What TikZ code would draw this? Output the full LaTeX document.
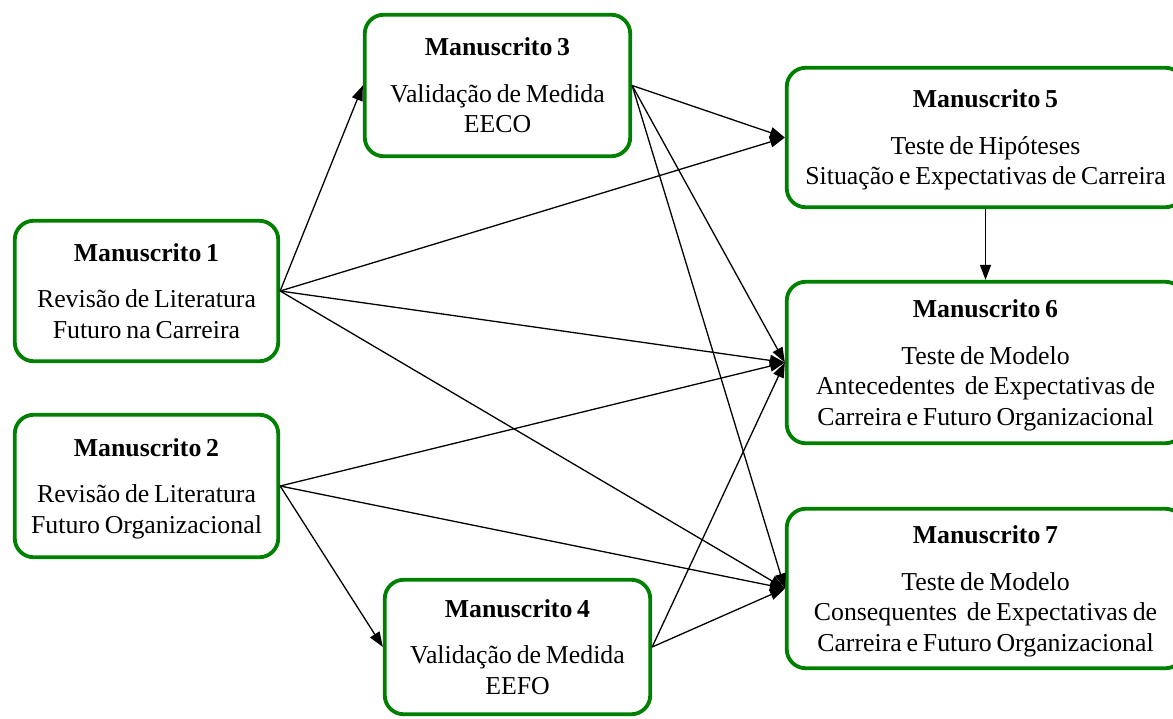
\documentclass[tikz,border=0pt]{standalone}
\usepackage{fontspec}
\setmainfont{Liberation Serif}[WordSpace=0.75]
\usetikzlibrary{arrows.meta}
\definecolor{boxgreen}{RGB}{0,128,0}
\begin{document}
\begin{tikzpicture}[x=1pt,y=-1pt,
  msbox/.style={draw=boxgreen, line width=3.8pt, rounded corners=19pt, fill=white,
    align=center, inner sep=0pt, text depth=0pt,
    font=\fontsize{25.8}{30.5}\selectfont},
  link/.style={line width=1.3pt, -{Triangle[length=15pt,width=11pt]}}]
\useasboundingbox (0,0) rectangle (1173,718);

% left column: literature reviews
\node[msbox, minimum width=263.5pt, minimum height=140.5pt] (m1) at (146.5,291)
  {\textbf{Manuscrito 1}\\[16pt]Revisão de Literatura\\Futuro na Carreira};
\node[msbox, minimum width=263.5pt, minimum height=142.5pt] (m2) at (146.5,486)
  {\textbf{Manuscrito 2}\\[16pt]Revisão de Literatura\\Futuro Organizacional};

% middle column: measure validation
\node[msbox, minimum width=265.5pt, minimum height=141.5pt] (m3) at (497.5,85.5)
  {\textbf{Manuscrito 3}\\[16pt]Validação de Medida\\EECO};
\node[msbox, minimum width=265.5pt, minimum height=134.5pt] (m4) at (517.5,647)
  {\textbf{Manuscrito 4}\\[16pt]Validação de Medida\\EEFO};

% right column: hypothesis and model tests
\node[msbox, minimum width=397.5pt, minimum height=139.5pt] (m5) at (985.5,137.5)
  {\textbf{Manuscrito 5}\\[16pt]Teste de Hipóteses\\Situação e Expectativas de Carreira};
\node[msbox, minimum width=397.5pt, minimum height=161.5pt] (m6) at (985.5,362.5)
  {\textbf{Manuscrito 6}\\[16pt]Teste de Modelo\\Antecedentes\ \ de Expectativas de\\Carreira e Futuro Organizacional};
\node[msbox, minimum width=397.5pt, minimum height=159.5pt] (m7) at (985.5,588.5)
  {\textbf{Manuscrito 7}\\[16pt]Teste de Modelo\\Consequentes\ \ de Expectativas de\\Carreira e Futuro Organizacional};

% dependencies between manuscripts
\draw[link] (m1.east) -- (m3.west);
\draw[link] (m1.east) -- (m5.west);
\draw[link] (m1.east) -- (m6.west);
\draw[link] (m1.east) -- (m7.west);
\draw[link] (m2.east) -- (m6.west);
\draw[link] (m2.east) -- (m7.west);
\draw[link] (m2.east) -- (m4.west);
\draw[link] (m3.east) -- (m5.west);
\draw[link] (m3.east) -- (m6.west);
\draw[link] (m3.east) -- (m7.west);
\draw[link] (m4.east) -- (m6.west);
\draw[link] (m4.east) -- (m7.west);
\draw[link] (m5.south) -- (m6.north);
\end{tikzpicture}
\end{document}
